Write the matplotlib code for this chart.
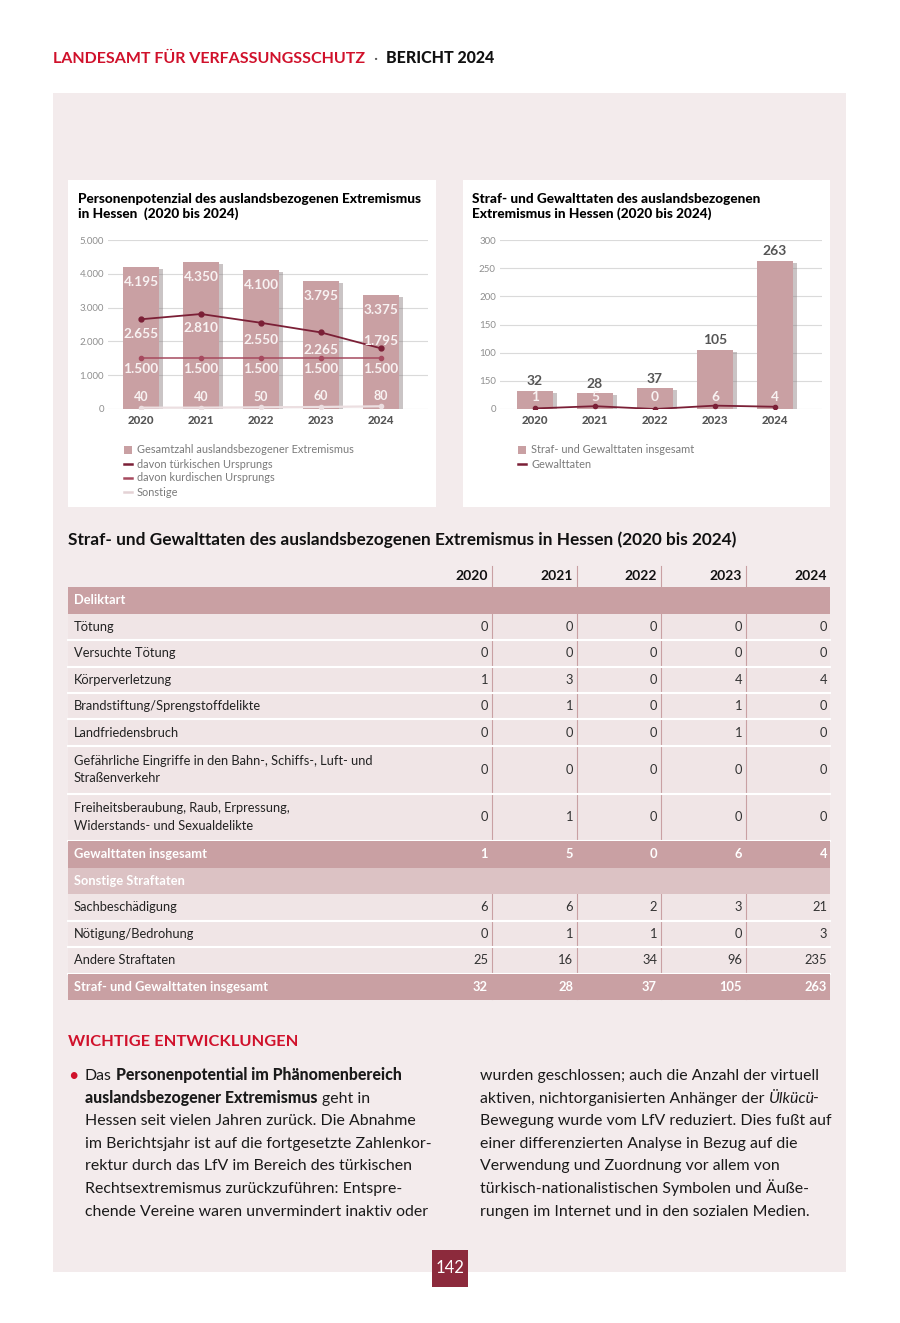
import matplotlib.pyplot as plt
from matplotlib.patches import Rectangle
from matplotlib.lines import Line2D
import numpy as np

plt.rcParams['font.family'] = ['Lato', 'DejaVu Sans']

W, H = 900, 1323

# --- Daten ---
years = ['2020', '2021', '2022', '2023', '2024']
pot_total = [4195, 4350, 4100, 3795, 3375]
pot_tuerk = [2655, 2810, 2550, 2265, 1795]
pot_kurd = [1500, 1500, 1500, 1500, 1500]
pot_sonst = [40, 40, 50, 60, 80]
pot_ticks = [0, 1000, 2000, 3000, 4000, 5000]
pot_ticklabels = ['0', '1.000', '2.000', '3.000', '4.000', '5.000']

taten_total = [32, 28, 37, 105, 263]
taten_gewalt = [1, 5, 0, 6, 4]
taten_ticks = [0, 50, 100, 150, 200, 250, 300]
taten_ticklabels = ['0', '150', '100', '150', '200', '250', '300']  # so im Original

delikt_labels = ['Tötung', 'Versuchte Tötung', 'Körperverletzung',
                 'Brandstiftung/Sprengstoffdelikte', 'Landfriedensbruch',
                 'Gefährliche Eingriffe in den Bahn-, Schiffs-, Luft- und\nStraßenverkehr',
                 'Freiheitsberaubung, Raub, Erpressung,\nWiderstands- und Sexualdelikte']
delikt_values = [[0, 0, 0, 0, 0], [0, 0, 0, 0, 0], [1, 3, 0, 4, 4], [0, 1, 0, 1, 0],
                 [0, 0, 0, 1, 0], [0, 0, 0, 0, 0], [0, 1, 0, 0, 0]]
gewalt_sum = [1, 5, 0, 6, 4]
sonst_labels = ['Sachbeschädigung', 'Nötigung/Bedrohung', 'Andere Straftaten']
sonst_values = [[6, 6, 2, 3, 21], [0, 1, 1, 0, 3], [25, 16, 34, 96, 235]]
straf_sum = [32, 28, 37, 105, 263]

BAR = '#c9a0a3'
RED = '#d0112b'

fig = plt.figure(figsize=(9, 13.23), dpi=100)
fig.patch.set_facecolor('white')
r = fig.canvas.get_renderer()


def box(x0, y0, x1, y1, color, z=-1):
    fig.add_artist(Rectangle((x0 / W, 1 - y1 / H), (x1 - x0) / W, (y1 - y0) / H,
                             transform=fig.transFigure, facecolor=color,
                             edgecolor='none', zorder=z))


def txt(x, y, s, **kw):
    return fig.text(x / W, 1 - y / H, s, **kw)


def de(v):
    return f'{v:,}'.replace(',', '.')


def draw_runs(x, y, runs, size, color='#1a1a1a'):
    t1 = txt(0, 0, 'a a', size=size)
    t2 = txt(0, 0, 'aa', size=size)
    sp = t1.get_window_extent(r).width - t2.get_window_extent(r).width
    t1.remove()
    t2.remove()
    for s, wt, st, col in runs:
        x += (len(s) - len(s.lstrip(' '))) * sp
        t = txt(x, y, s.strip(' '), size=size, weight=wt, style=st,
                color=col or color, va='baseline')
        x += t.get_window_extent(r).width + (len(s) - len(s.rstrip(' '))) * sp
        if st == 'italic':
            x -= 2


# Hintergrund
box(53, 93, 846, 1272, '#f3ebec', z=-3)
box(68, 180, 436, 507, 'white', z=-2)
box(463, 180, 830, 507, 'white', z=-2)

# Kopfzeile
draw_runs(53, 63, [('LANDESAMT FÜR VERFASSUNGSSCHUTZ', 'bold', 'normal', RED),
                   ('  ·  ', 'normal', 'normal', '#555555'),
                   ('BERICHT 2024', 'black', 'normal', '#111111')], 11.5)

# --- linkes Diagramm ---
txt(78, 199, 'Personenpotenzial des auslandsbezogenen Extremismus', size=9.8,
    weight='black', va='center')
txt(78, 214, 'in Hessen  (2020 bis 2024)', size=9.8, weight='black', va='center')

x = np.arange(5)
ax1 = fig.add_axes([108 / W, 1 - 409 / H, 320 / W, 169 / H])
ax1.set_facecolor('none')
ax1.set_xlim((108 - 141) / 60, (428 - 141) / 60)
ax1.set_ylim(0, 5000)
ax1.bar(x + 0.07, np.array(pot_total) - 60, 0.6, color='#8a7e80', alpha=0.45, zorder=2)
ax1.bar(x, pot_total, 0.6, color=BAR, zorder=3)
ax1.plot(x, pot_tuerk, color='#7b1f36', lw=1.3, marker='o', ms=3.5, zorder=4)
ax1.plot(x, pot_kurd, color='#a64a5f', lw=1.1, marker='o', ms=3, zorder=4)
ax1.plot(x, pot_sonst, color='#ecdfe1', lw=1.6, marker='o', ms=3, zorder=4)
tuerk_off = [-450, -420, -500, -510, 220]
for i in range(5):
    ax1.text(i, pot_total[i] - 440, de(pot_total[i]), ha='center', va='center',
             color='#f8f2f2', size=9.8, weight='bold', zorder=5)
    ax1.text(i, pot_tuerk[i] + tuerk_off[i], de(pot_tuerk[i]), ha='center', va='center',
             color='#f8f2f2', size=9.8, weight='bold', zorder=5)
    ax1.text(i, pot_kurd[i] - 320, de(pot_kurd[i]), ha='center', va='center',
             color='#f8f2f2', size=9.8, weight='bold', zorder=5)
    ax1.text(i, pot_sonst[i] + 310, de(pot_sonst[i]), ha='center', va='center',
             color='#f8f2f2', size=9, weight='bold', zorder=5)
ax1.set_yticks(pot_ticks, pot_ticklabels)
ax1.set_xticks(x, years)

# --- rechtes Diagramm ---
txt(472, 199, 'Straf- und Gewalttaten des auslandsbezogenen', size=9.8,
    weight='black', va='center')
txt(472, 214, 'Extremismus in Hessen (2020 bis 2024)', size=9.8, weight='black', va='center')

ax2 = fig.add_axes([500 / W, 1 - 409 / H, 322 / W, 169 / H])
ax2.set_facecolor('none')
ax2.set_xlim((500 - 535) / 60, (822 - 535) / 60)
ax2.set_ylim(0, 300)
ax2.bar(x + 0.07, np.array(taten_total) - 3, 0.6, color='#8a7e80', alpha=0.45, zorder=2)
ax2.bar(x, taten_total, 0.6, color=BAR, zorder=3)
ax2.plot(x, taten_gewalt, color='#7b1f36', lw=1.3, marker='o', ms=3, zorder=4)
for i in range(5):
    ax2.text(i, taten_total[i] + 17, str(taten_total[i]), ha='center', va='center',
             color='#555555', size=10, weight='bold', zorder=5)
    ax2.text(i, 21, str(taten_gewalt[i]), ha='center', va='center',
             color='#f8f2f2', size=9.8, weight='bold', zorder=5)
ax2.set_yticks(taten_ticks, taten_ticklabels)
ax2.set_xticks(x, years)

for ax in (ax1, ax2):
    for s in ax.spines.values():
        s.set_visible(False)
    ax.yaxis.grid(True, color='#dadada', lw=0.8)
    ax.set_axisbelow(True)
    ax.tick_params(axis='y', length=0, pad=3, labelsize=7, labelcolor='#8f8f8f')
    ax.tick_params(axis='x', length=0, pad=4, labelsize=8.3, labelcolor='#555555')
    for lb in ax.get_xticklabels():
        lb.set_fontweight('black')

# Legenden
legend_left = [('Gesamtzahl auslandsbezogener Extremismus', 'bar', BAR),
               ('davon türkischen Ursprungs', 'line', '#7b1f36'),
               ('davon kurdischen Ursprungs', 'line', '#a64a5f'),
               ('Sonstige', 'line', '#e4d2d5')]
legend_right = [('Straf- und Gewalttaten insgesamt', 'bar', BAR),
                ('Gewalttaten', 'line', '#7b1f36')]
for lx, items in ((124, legend_left), (518, legend_right)):
    for k, (lab, kind, col) in enumerate(items):
        ly = 450 + 14 * k
        if kind == 'bar':
            box(lx, ly - 4, lx + 8, ly + 4, col, z=1)
        else:
            fig.add_artist(Line2D([lx / W, (lx + 8) / W], [1 - ly / H] * 2,
                                  color=col, lw=1.8, transform=fig.transFigure))
        txt(lx + 13, ly, lab, size=7.9, color='#7a7a7a', va='center')

# --- Tabelle ---
txt(68, 540, 'Straf- und Gewalttaten des auslandsbezogenen Extremismus in Hessen (2020 bis 2024)',
    size=12.45, weight='bold', va='center', color='#111111')
col_right = [488, 573, 657, 742, 827]
for j, yr in enumerate(years):
    txt(col_right[j], 576, yr, ha='right', va='center', size=10, weight='bold', color='#111111')

rows = [('Deliktart', None, 'band')]
rows += [(l, v, 'row') for l, v in zip(delikt_labels, delikt_values)]
rows += [('Gewalttaten insgesamt', gewalt_sum, 'band'), ('Sonstige Straftaten', None, 'sub')]
rows += [(l, v, 'row') for l, v in zip(sonst_labels, sonst_values)]
rows += [('Straf- und Gewalttaten insgesamt', straf_sum, 'band')]

for vx in (492, 577, 661, 746):
    fig.add_artist(Line2D([vx / W] * 2, [1 - 566 / H, 1 - 999 / H], color='#c9a0a3',
                          lw=0.8, transform=fig.transFigure, zorder=0))
y0 = 587
for lab, vals, kind in rows:
    h = 47.5 if '\n' in lab else 26.5
    yc = y0 + h / 2
    if kind == 'row':
        box(68, y0, 830, y0 + h, '#f0e5e6', z=-1)
        fig.add_artist(Line2D([68 / W, 830 / W], [1 - (y0 + h) / H] * 2, color='white',
                              lw=1.5, transform=fig.transFigure, zorder=0.5))
        txt(74, yc, lab, size=9.3, va='center', color='#222222', linespacing=1.55)
        for j, v in enumerate(vals):
            txt(col_right[j], yc, str(v), size=9.3, ha='right', va='center',
                color='#333333')
    else:
        box(68, y0, 830, y0 + h, BAR if kind == 'band' else '#dcc2c4', z=1)
        txt(74, yc, lab, size=9.3, va='center', color='white', weight='bold', zorder=3)
        if vals:
            for j, v in enumerate(vals):
                txt(col_right[j], yc, str(v), size=9.3, ha='right', va='center',
                    color='white', weight='bold', zorder=3)
    y0 += h

# --- Fließtext ---
txt(68, 1046, 'WICHTIGE ENTWICKLUNGEN', size=11.8, weight='bold', color=RED, va='baseline')
txt(73, 1076, '•', size=13, color=RED, ha='center', va='center')
N, B, I = 'normal', 'black', 'italic'
left_lines = [
    [('Das ', N, N, None), ('Personenpotential im Phänomenbereich', B, N, None)],
    [('auslandsbezogener Extremismus', B, N, None), (' geht in', N, N, None)],
    [('Hessen seit vielen Jahren zurück. Die Abnahme', N, N, None)],
    [('im Berichtsjahr ist auf die fortgesetzte Zahlenkor-', N, N, None)],
    [('rektur durch das LfV im Bereich des türkischen', N, N, None)],
    [('Rechtsextremismus zurückzuführen: Entspre-', N, N, None)],
    [('chende Vereine waren unvermindert inaktiv oder', N, N, None)],
]
right_lines = [
    [('wurden geschlossen; auch die Anzahl der virtuell', N, N, None)],
    [('aktiven, nichtorganisierten Anhänger der ', N, N, None), ('Ülkücü', N, I, None),
     ('-', N, N, None)],
    [('Bewegung wurde vom LfV reduziert. Dies fußt auf', N, N, None)],
    [('einer differenzierten Analyse in Bezug auf die', N, N, None)],
    [('Verwendung und Zuordnung vor allem von', N, N, None)],
    [('türkisch-nationalistischen Symbolen und Äuße-', N, N, None)],
    [('rungen im Internet und in den sozialen Medien.', N, N, None)],
]
for k in range(7):
    draw_runs(85, 1080 + 22.6 * k, left_lines[k], 11.4)
    draw_runs(480, 1080 + 22.6 * k, right_lines[k], 11.4)

# Seitenzahl
box(432, 1250, 468, 1287, '#8c2a3c', z=1)
txt(450, 1268, '142', size=12, color='white', ha='center', va='center', zorder=3)

fig.savefig('out.png', dpi=100)
